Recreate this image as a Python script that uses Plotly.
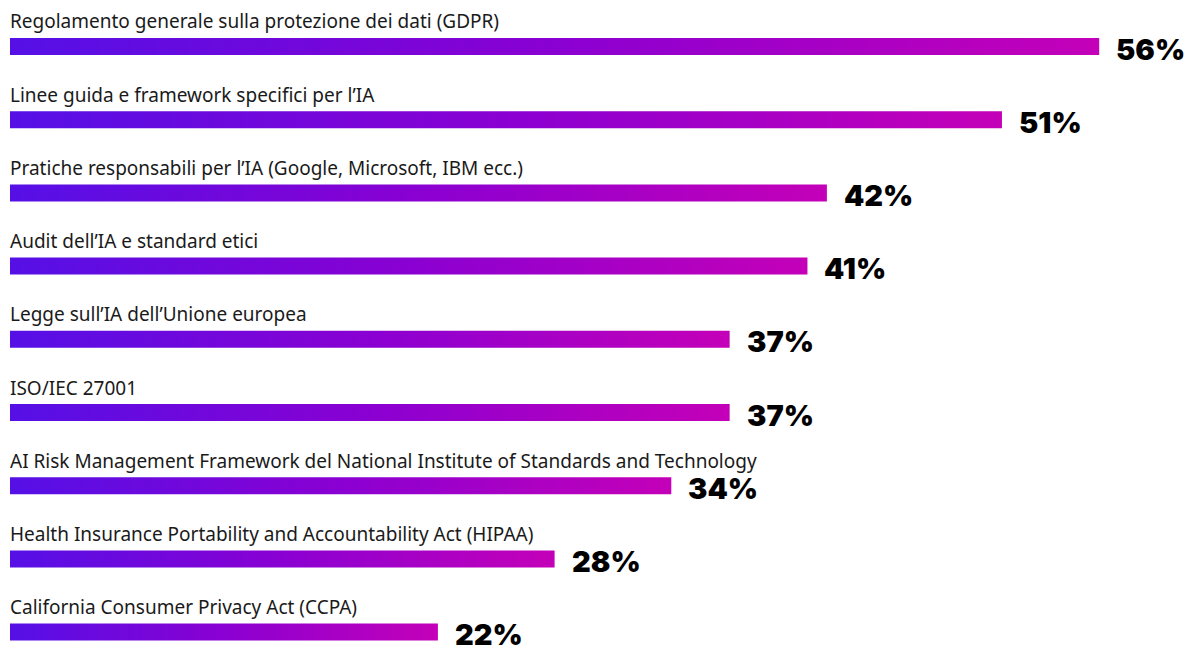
import plotly.graph_objects as go

categories = [
    "Regolamento generale sulla protezione dei dati (GDPR)",
    "Linee guida e framework specifici per l’IA",
    "Pratiche responsabili per l’IA (Google, Microsoft, IBM ecc.)",
    "Audit dell’IA e standard etici",
    "Legge sull’IA dell’Unione europea",
    "ISO/IEC 27001",
    "AI Risk Management Framework del National Institute of Standards and Technology",
    "Health Insurance Portability and Accountability Act (HIPAA)",
    "California Consumer Privacy Act (CCPA)",
]
values = [56, 51, 42, 41, 37, 37, 34, 28, 22]
value_labels = [f"{v}%" for v in values]

W, H = 1203, 648
left_px = 10
px_per_unit = 19.45
row_px = 73.2
first_center_px = 46.5
bar_px = 17
half = (bar_px / 2) / row_px

colorscale = [[0, "#5510E6"], [0.5, "#8A00D2"], [1, "#C400B8"]]

fig = go.Figure()
annotations = []
for i, (cat, v, lab) in enumerate(zip(categories, values, value_labels)):
    fig.add_trace(go.Scatter(
        x=[0, v, v, 0, 0],
        y=[i - half, i - half, i + half, i + half, i - half],
        mode="lines",
        line=dict(width=0),
        fill="toself",
        fillgradient=dict(type="horizontal", colorscale=colorscale),
        hoverinfo="skip",
        showlegend=False,
    ))
    annotations.append(dict(
        x=0, y=i, xref="x", yref="y", text=cat, showarrow=False,
        xanchor="left", yanchor="bottom", yshift=10, xshift=-2,
        font=dict(family="Noto Sans", size=19, color="#1a1a1a"),
    ))
    annotations.append(dict(
        x=v, y=i, xref="x", yref="y", text=lab, showarrow=False,
        xanchor="left", yanchor="middle", xshift=16, yshift=-2,
        height=28, valign="middle", borderpad=0,
        font=dict(family="Inter", size=29, color="#000000", weight=900),
    ))

x0 = -left_px / px_per_unit
x1 = (W - left_px) / px_per_unit
y_top = -first_center_px / row_px
y_bot = (H - first_center_px) / row_px

fig.update_layout(
    width=W, height=H,
    margin=dict(l=0, r=0, t=0, b=0),
    paper_bgcolor="white", plot_bgcolor="white",
    xaxis=dict(range=[x0, x1], visible=False, fixedrange=True),
    yaxis=dict(range=[y_bot, y_top], visible=False, fixedrange=True),
    annotations=annotations,
    showlegend=False,
)
fig.write_html("out.html")
